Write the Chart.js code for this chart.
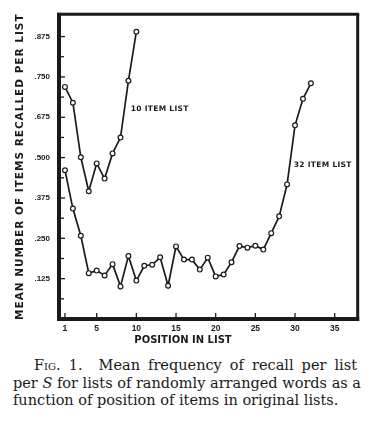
<!DOCTYPE html>
<html>
<head>
<meta charset="utf-8">
<script src="https://cdn.jsdelivr.net/npm/chart.js@4.4.1/dist/chart.umd.min.js"></script>
<style>
  body { margin: 0; background: #fff; }
  #wrap { position: relative; width: 372px; height: 345px; }
  #caption {
    position: absolute; left: 13px; top: 357px; width: 344px;
    font-family: "DejaVu Serif", serif; font-size: 14.5px; line-height: 17.5px;
    color: #1a1a1a;
  }
  #caption div { text-align: justify; text-align-last: justify; white-space: nowrap; }
  #caption div.last { text-align-last: left; }
  #caption .first { padding-left: 21px; }
  .sc { font-variant: small-caps; }
</style>
</head>
<body>
<div id="wrap"><canvas id="recallChart"></canvas></div>
<div id="caption">
  <div class="first"><span class="sc">Fig.</span> 1.&nbsp; Mean frequency of recall per list</div>
  <div>per <i>S</i> for lists of randomly arranged words as a</div>
  <div class="last">function of position of items in original lists.</div>
</div>
<script>
// Serial positions and mean recall
const positions10 = Array.from({ length: 10 }, (_, i) => i + 1);
const recall10 = [0.719, 0.670, 0.501, 0.396, 0.482, 0.435, 0.513, 0.562, 0.738, 0.890];

const positions32 = Array.from({ length: 32 }, (_, i) => i + 1);
const recall32 = [
  0.461, 0.342, 0.258, 0.142, 0.150, 0.135, 0.170, 0.101, 0.195, 0.119,
  0.165, 0.168, 0.191, 0.103, 0.225, 0.184, 0.184, 0.153, 0.190, 0.132,
  0.138, 0.176, 0.226, 0.221, 0.227, 0.215, 0.266, 0.318, 0.417, 0.600,
  0.682, 0.730,
];

// Axis ticks
const xTickValues = [1, 5, 10, 15, 20, 25, 30, 35];
const yTickValues = [0.0625, 0.125, 0.1875, 0.25, 0.3125, 0.375, 0.4375, 0.5, 0.5625, 0.625, 0.6875, 0.75, 0.8125, 0.875];
const yTickLabels = ["", ".125", "", ".250", "", ".375", "", ".500", "", ".675", "", ".750", "", ".875"];

const ink = "#1a1a1a";

function toPoints(xs, ys) {
  return xs.map((x, i) => ({ x: x, y: ys[i] }));
}

// Frame, inward tick marks, axis titles and curve labels
const figureDecor = {
  id: "figureDecor",
  afterDraw(chart) {
    const { ctx, chartArea: a, scales } = chart;
    const x = scales.x, y = scales.y;
    ctx.save();
    ctx.strokeStyle = ink;
    ctx.fillStyle = ink;
    ctx.lineCap = "butt";

    const seg = (x1, y1, x2, y2) => {
      ctx.beginPath();
      ctx.moveTo(x1, y1);
      ctx.lineTo(x2, y2);
      ctx.stroke();
    };

    ctx.lineWidth = 1.3;
    x.ticks.forEach((t) => {
      const px = x.getPixelForValue(t.value);
      seg(px, a.bottom, px, a.bottom - 6);
    });
    y.ticks.forEach((t, i) => {
      const py = y.getPixelForValue(t.value);
      const len = yTickLabels[i] ? 6 : 5;
      seg(a.left, py, a.left + len, py);
    });

    // heavy frame
    ctx.lineWidth = 3;
    seg(a.left - 2, a.top, a.right + 1.5, a.top);
    seg(a.right, a.top, a.right, a.bottom + 2);
    ctx.lineWidth = 4;
    seg(a.left, a.top - 1.5, a.left, a.bottom + 2);
    seg(a.left - 2, a.bottom, a.right + 1.5, a.bottom);

    // axis titles
    ctx.font = "bold 10.5px 'DejaVu Sans'";
    ctx.letterSpacing = "1px";
    ctx.textAlign = "center";
    ctx.textBaseline = "middle";
    ctx.save();
    ctx.translate(20.5, (a.top + a.bottom) / 2);
    ctx.rotate(-Math.PI / 2);
    ctx.fillText("MEAN NUMBER OF ITEMS RECALLED PER LIST", 0, 0);
    ctx.restore();

    ctx.font = "bold 10px 'DejaVu Sans'";
    ctx.letterSpacing = "0px";
    ctx.fillText("POSITION IN LIST", 183, 340);

    // curve labels
    ctx.font = "bold 7.5px 'DejaVu Sans'";
    ctx.letterSpacing = "0.3px";
    ctx.textAlign = "left";
    ctx.fillText("10 ITEM LIST", x.getPixelForValue(9.3), y.getPixelForValue(0.651));
    ctx.fillText("32 ITEM LIST", x.getPixelForValue(29.85), y.getPixelForValue(0.476));
    ctx.restore();
  },
};

const seriesStyle = {
  borderColor: ink,
  borderWidth: 1.7,
  pointRadius: 2.4,
  pointBorderWidth: 1.2,
  pointBackgroundColor: "#fff",
  pointBorderColor: ink,
  tension: 0,
  fill: false,
};

const ctx = document.getElementById("recallChart").getContext("2d");
new Chart(ctx, {
  type: "line",
  data: {
    datasets: [
      Object.assign({ label: "10 item list", data: toPoints(positions10, recall10) }, seriesStyle),
      Object.assign({ label: "32 item list", data: toPoints(positions32, recall32) }, seriesStyle),
    ],
  },
  options: {
    responsive: true,
    maintainAspectRatio: false,
    animation: false,
    layout: { padding: { left: 0, right: 14.3, top: 14.3, bottom: 0 } },
    plugins: { legend: { display: false }, tooltip: { enabled: false } },
    scales: {
      x: {
        type: "linear",
        min: 0.25,
        max: 37.9,
        grid: { display: false, drawTicks: false },
        border: { display: false },
        afterFit: (scale) => { scale.height = 26; },
        afterBuildTicks: (scale) => {
          scale.ticks = xTickValues.map((v) => ({ value: v }));
        },
        ticks: {
          autoSkip: false,
          maxRotation: 0,
          padding: 5,
          color: ink,
          font: { family: "'Liberation Sans'", weight: "bold", size: 8.5 },
          callback: (value) => String(value),
        },
      },
      y: {
        type: "linear",
        min: 0,
        max: 0.944,
        grid: { display: false, drawTicks: false },
        border: { display: false },
        afterFit: (scale) => { scale.width = 59; },
        afterBuildTicks: (scale) => {
          scale.ticks = yTickValues.map((v) => ({ value: v }));
        },
        ticks: {
          autoSkip: false,
          padding: 9,
          color: ink,
          font: { family: "'Liberation Sans'", weight: "bold", size: 8 },
          callback: (value) => yTickLabels[yTickValues.indexOf(value)],
        },
      },
    },
  },
  plugins: [figureDecor],
});
</script>
</body>
</html>
